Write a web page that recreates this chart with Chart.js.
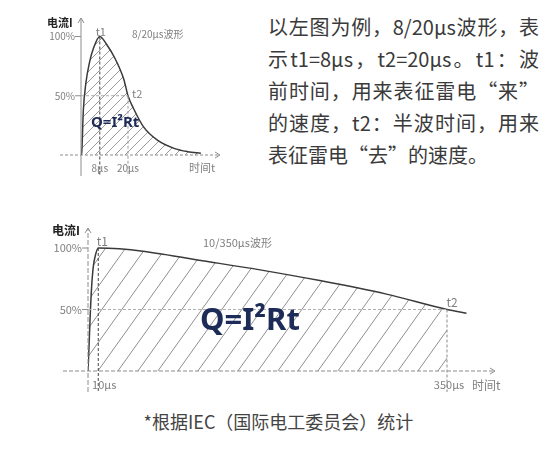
<!DOCTYPE html>
<html lang="zh-CN">
<head>
<meta charset="utf-8">
<script src="https://cdn.jsdelivr.net/npm/chart.js@4.4.1/dist/chart.umd.min.js"></script>
<style>
html,body{margin:0;padding:0;background:#fff;}
#page{position:relative;width:557px;height:450px;overflow:hidden;font-family:"Noto Sans CJK SC","Noto Sans",sans-serif;}
#c1{position:absolute;left:0;top:0;}
#c2{position:absolute;left:0;top:200px;}
.para{position:absolute;left:268px;top:11px;width:271px;font-size:20px;line-height:32px;color:#3a3a3a;}
.para div{text-align:justify;text-align-last:justify;}
.para div.last{text-align:left;text-align-last:left;}
.note{position:absolute;left:0;top:408px;width:557px;text-align:center;font-size:18px;line-height:26px;color:#444;}
</style>
</head>
<body>
<div id="page">
  <canvas id="c1" width="250" height="190"></canvas>
  <canvas id="c2" width="557" height="200"></canvas>
  <div class="para">
    <div>以左图为例，8/20μs波形，表</div>
    <div>示t1=8μs，t2=20μs。t1：波</div>
    <div>前时间，用来表征雷电“来”</div>
    <div>的速度，t2：半波时间，用来</div>
    <div class="last">表征雷电“去”的速度。</div>
  </div>
  <div class="note">*根据IEC（国际电工委员会）统计</div>
</div>
<script>
// ---------- data ----------
// 8/20 μs waveform (time in μs, current in % of peak)
const shortTimes   = [0, 0.3, 1, 2.1, 3.6, 5.3, 8, 11, 14.6, 18.2, 20, 22.4, 26.7, 32.5, 39.6, 45.4, 51];
const shortCurrent = [0, 2, 38, 61, 78, 90, 100, 93, 81, 64, 50, 39, 23.5, 12.5, 5.6, 2.8, 1.4];
const shortMarks      = [8, 20];           // t1, t2
const shortMarkLabels = ['8μs', '20μs'];
// 10/350 μs waveform
const longTimes   = [0, 1, 2.1, 3.5, 5.2, 7.2, 10, 128, 226, 291, 350, 369];
const longCurrent = [0, 20, 44, 68, 85, 94, 100, 87.5, 73.5, 62.5, 50, 47];
const longMarks      = [10, 350];
const longMarkLabels = ['10μs', '350μs'];
// y-axis ticks
const yTickValues = [100, 50];
const yTickLabels = ['100%', '50%'];
const yTitle = '电流I';
const xTitle = '时间t';
const formula = 'Q=I²Rt';
const shortTitle = '8/20μs波形';
const longTitle = '10/350μs波形';

// ---------- helpers ----------
const CJK = '"Noto Sans CJK SC","Noto Sans",sans-serif';
function makeHatch(w, h, color, lw) {
  const c = document.createElement('canvas');
  c.width = w; c.height = h;
  const g = c.getContext('2d');
  g.strokeStyle = color; g.lineWidth = lw;
  g.beginPath();
  for (const k of [0, 1, 2]) {
    const cc = k * w;
    g.moveTo(cc - w - 0.3 * w, h + 0.3 * h);
    g.lineTo(cc + 0.3 * w, -0.3 * h);
  }
  g.stroke();
  return g.createPattern(c, 'repeat');
}
function seg(ctx, x1, y1, x2, y2, color, lw, dash) {
  ctx.save();
  ctx.strokeStyle = color; ctx.lineWidth = lw; ctx.setLineDash(dash || []);
  ctx.beginPath(); ctx.moveTo(x1, y1); ctx.lineTo(x2, y2); ctx.stroke();
  ctx.restore();
}
function arrowUp(ctx, x, y, color) {
  seg(ctx, x - 3, y + 5, x, y, color, 1); seg(ctx, x + 3, y + 5, x, y, color, 1);
}
function arrowRight(ctx, x, y, color) {
  seg(ctx, x - 5, y - 3, x, y, color, 1); seg(ctx, x - 5, y + 3, x, y, color, 1);
}
function txt(ctx, s, x, y, font, color, align) {
  ctx.save();
  ctx.font = font; ctx.fillStyle = color; ctx.textAlign = align || 'left'; ctx.textBaseline = 'middle';
  ctx.fillText(s, x, y);
  ctx.restore();
}
function pts(ts, vs) { return ts.map((t, i) => ({x: t, y: vs[i]})); }

// ---------- chart 1 : 8/20 ----------
const plugin1 = {
  id: 'anno1',
  afterDraw(chart) {
    const ctx = chart.ctx, X = v => chart.scales.x.getPixelForValue(v), Y = v => chart.scales.y.getPixelForValue(v);
    const x0 = X(0), y0 = Y(0), ax = '#8c8c8c', lab = '#808080';
    seg(ctx, x0, 176, x0, 18, ax, 1); arrowUp(ctx, x0, 18, ax);
    seg(ctx, 60, y0, 220, y0, ax, 1, [3, 2]); arrowRight(ctx, 220, y0, ax);
    yTickValues.forEach((v, i) => {
      seg(ctx, x0 - 6, Y(v), x0, Y(v), ax, 1);
      txt(ctx, yTickLabels[i], x0 - 6, Y(v), '10px ' + CJK, lab, 'right');
    });
    const t1 = shortMarks[0], t2 = shortMarks[1];
    seg(ctx, x0, Y(50), X(t2), Y(50), '#aaaaaa', 1, [3, 2]);
    seg(ctx, X(t1), Y(100), X(t1), 176, '#444', 1, [3, 2]);
    seg(ctx, X(t2), Y(50), X(t2), 176, '#9a9a9a', 1, [3, 2]);
    txt(ctx, 't1', X(t1) + 1, 32, '11px ' + CJK, lab, 'center');
    txt(ctx, 't2', X(t2) + 4, Y(50) - 2, '11px ' + CJK, lab, 'left');
    txt(ctx, shortTitle, 132, 34, '10px ' + CJK, lab, 'left');
    shortMarks.forEach((v, i) => txt(ctx, shortMarkLabels[i], X(v), 168, '10px ' + CJK, lab, 'center'));
    txt(ctx, xTitle, 189, 168, '11px ' + CJK, lab, 'left');
    txt(ctx, yTitle, 47, 23, 'bold 11px ' + CJK, '#222', 'left');
    txt(ctx, formula, 91, 123, 'bold 15px "Noto Sans",' + CJK, '#1c2b57', 'left');
  }
};
new Chart(document.getElementById('c1'), {
  type: 'line',
  data: {
    datasets: [{
      data: pts(shortTimes, shortCurrent),
      borderColor: '#3a3a3a', borderWidth: 1.5, pointRadius: 0,
      cubicInterpolationMode: 'monotone',
      fill: 'origin', backgroundColor: makeHatch(10, 10, '#9a9a9a', 1)
    }]
  },
  options: {
    responsive: false, animation: false, events: [],
    layout: {padding: {left: 81, right: 28, top: 24.65, bottom: 35}},
    plugins: {legend: {display: false}, tooltip: {enabled: false}},
    scales: {
      x: {type: 'linear', min: 0, max: 60, display: false},
      y: {min: 0, max: 110, display: false}
    }
  },
  plugins: [plugin1]
});

// ---------- chart 2 : 10/350 ----------
const plugin2 = {
  id: 'anno2',
  afterDraw(chart) {
    const ctx = chart.ctx, X = v => chart.scales.x.getPixelForValue(v), Y = v => chart.scales.y.getPixelForValue(v);
    const x0 = X(0), y0 = Y(0), ax = '#8c8c8c', lab = '#808080';
    seg(ctx, x0, 192, x0, 28, ax, 1, [5, 2]); arrowUp(ctx, x0, 28, ax);
    seg(ctx, 63, y0, 495, y0, ax, 1, [4, 2]); arrowRight(ctx, 495, y0, ax);
    yTickValues.forEach((v, i) => {
      seg(ctx, x0 - 6, Y(v), x0, Y(v), ax, 1);
      txt(ctx, yTickLabels[i], x0 - 6, Y(v), '11px ' + CJK, lab, 'right');
    });
    const t1 = longMarks[0], t2 = longMarks[1];
    seg(ctx, x0, Y(50), X(t2), Y(50), '#b0b0b0', 1, [3, 2]);
    seg(ctx, X(t1), Y(100), X(t1), 192, '#444', 1, [3, 2]);
    seg(ctx, X(t2), Y(50), X(t2), 192, '#8a8a8a', 1, [3, 2]);
    txt(ctx, 't1', X(t1) + 4, 41, '12px ' + CJK, lab, 'center');
    txt(ctx, 't2', X(t2) + 5, 102, '12px ' + CJK, lab, 'center');
    txt(ctx, longTitle, 203, 43, '11px ' + CJK, lab, 'left');
    longMarks.forEach((v, i) => txt(ctx, longMarkLabels[i], X(v) + (i === 0 ? 6 : 2), 185, '11px ' + CJK, lab, 'center'));
    txt(ctx, xTitle, 472, 185, '12px ' + CJK, lab, 'left');
    txt(ctx, yTitle, 52, 30, 'bold 12px ' + CJK, '#222', 'left');
    txt(ctx, formula, 200, 121, 'bold 31px "Noto Sans",' + CJK, '#1c2b57', 'left');
  }
};
const fillEnd = longTimes.indexOf(longMarks[1]);
new Chart(document.getElementById('c2'), {
  type: 'line',
  data: {
    datasets: [{
      data: pts(longTimes, longCurrent),
      borderColor: '#3a3a3a', borderWidth: 1.5, pointRadius: 0,
      cubicInterpolationMode: 'monotone', fill: false
    }, {
      data: pts(longTimes.slice(0, fillEnd + 1), longCurrent.slice(0, fillEnd + 1)),
      borderWidth: 0, borderColor: 'rgba(0,0,0,0)', pointRadius: 0,
      cubicInterpolationMode: 'monotone',
      fill: 'origin', backgroundColor: makeHatch(20, 28, '#8f8f8f', 1)
    }]
  },
  options: {
    responsive: false, animation: false, events: [],
    layout: {padding: {left: 88, right: 58.71, top: 35.7, bottom: 29}},
    plugins: {legend: {display: false}, tooltip: {enabled: false}},
    scales: {
      x: {type: 'linear', min: 0, max: 400, display: false},
      y: {min: 0, max: 110, display: false}
    }
  },
  plugins: [plugin2]
});
</script>
</body>
</html>
